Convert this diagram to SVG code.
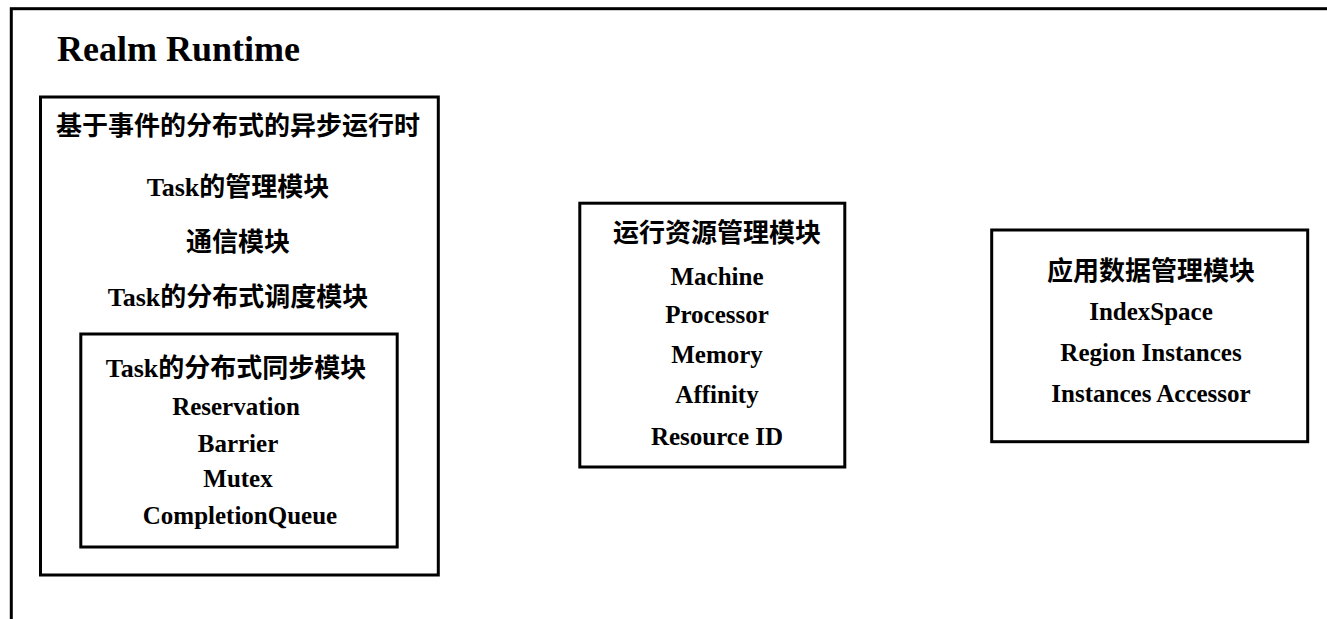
<svg xmlns="http://www.w3.org/2000/svg" width="1327" height="619" viewBox="0 0 1327 619">
<style>
.box{fill:none;stroke:#000;stroke-width:3}
.t{font-family:"Liberation Serif","Noto Sans CJK SC",serif;font-weight:bold;font-size:25px;fill:#000;text-anchor:middle}
.c{font-size:26px}
.h{font-size:36px;text-anchor:start}
</style>
<rect width="1327" height="619" fill="#fff"/>
<g id="realm-runtime">
<rect class="box" x="11.3" y="8.7" width="1400" height="700"/>
<text class="t h" x="57" y="61">Realm Runtime</text>
</g>
<g id="event-runtime">
<rect class="box" x="40.5" y="97" width="397.8" height="478"/>
<text class="t c" x="238" y="135">基于事件的分布式的异步运行时</text>
<text class="t c" x="238" y="196">Task的管理模块</text>
<text class="t c" x="238" y="251">通信模块</text>
<text class="t c" x="238" y="306">Task的分布式调度模块</text>
</g>
<g id="sync-module">
<rect class="box" x="80.8" y="334" width="316.4" height="213"/>
<text class="t c" x="236" y="377">Task的分布式同步模块</text>
<text class="t" x="236" y="415">Reservation</text>
<text class="t" x="238" y="452">Barrier</text>
<text class="t" x="238" y="487">Mutex</text>
<text class="t" x="240" y="524">CompletionQueue</text>
</g>
<g id="resource-module">
<rect class="box" x="579.8" y="203.2" width="265" height="263.8"/>
<text class="t c" x="717" y="242">运行资源管理模块</text>
<text class="t" x="717" y="285">Machine</text>
<text class="t" x="717" y="323">Processor</text>
<text class="t" x="717" y="363">Memory</text>
<text class="t" x="717" y="403">Affinity</text>
<text class="t" x="717" y="445">Resource ID</text>
</g>
<g id="data-module">
<rect class="box" x="991.7" y="230" width="316" height="211.7"/>
<text class="t c" x="1151" y="280">应用数据管理模块</text>
<text class="t" x="1151" y="320">IndexSpace</text>
<text class="t" x="1151" y="361">Region Instances</text>
<text class="t" x="1151" y="402">Instances Accessor</text>
</g>
<g id="connectors"></g>
</svg>
